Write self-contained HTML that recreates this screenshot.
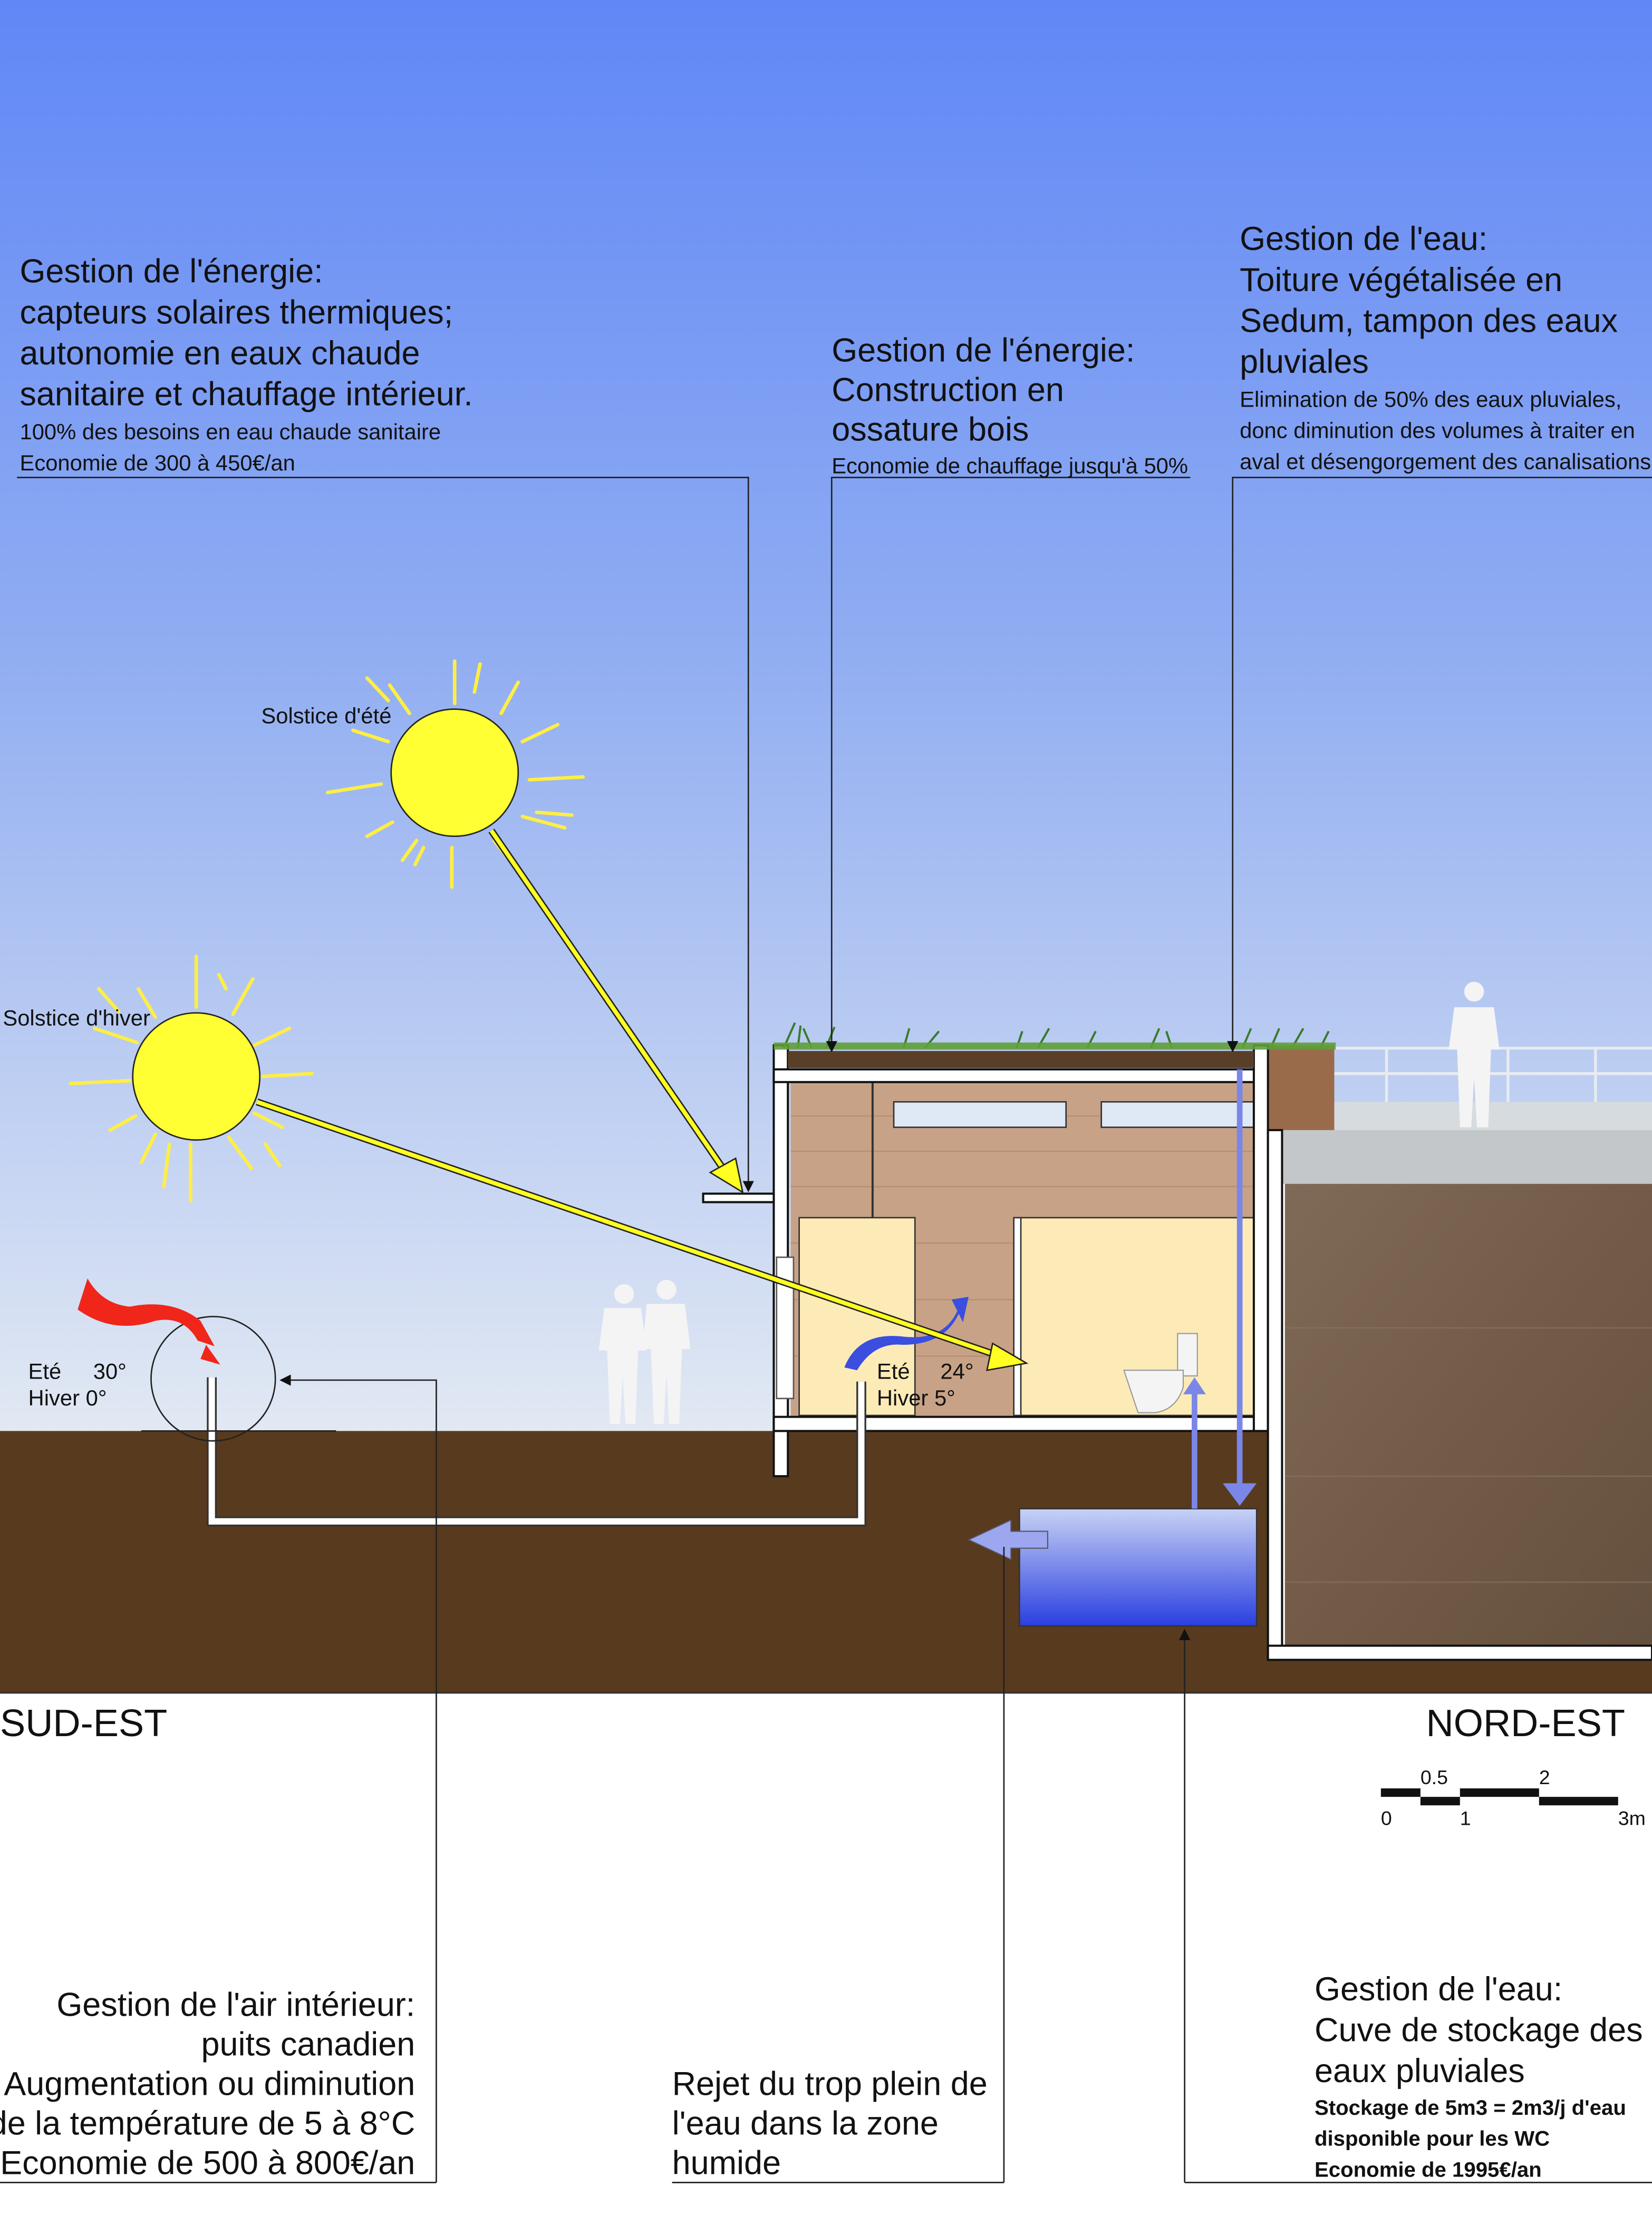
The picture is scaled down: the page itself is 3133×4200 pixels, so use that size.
<!DOCTYPE html>
<html><head><meta charset="utf-8">
<style>
html,body{margin:0;padding:0;background:#fff;}
svg{display:block;}
text{font-family:"Liberation Sans",Arial,sans-serif;fill:#111;}
</style></head>
<body>
<svg width="3133" height="4200" viewBox="0 0 1170 1568" preserveAspectRatio="none" xmlns="http://www.w3.org/2000/svg">
<defs>
<linearGradient id="sky" x1="0" y1="0" x2="0" y2="1">
<stop offset="0" stop-color="#6087f6"/>
<stop offset="0.45" stop-color="#90adf2"/>
<stop offset="1" stop-color="#e2e9f3"/>
</linearGradient>
<linearGradient id="tank" x1="0" y1="0" x2="0" y2="1">
<stop offset="0" stop-color="#c8d2f5"/>
<stop offset="1" stop-color="#2a3fe0"/>
</linearGradient>
<linearGradient id="soil" x1="0" y1="0" x2="1" y2="1">
<stop offset="0" stop-color="#7f6a58"/>
<stop offset="0.5" stop-color="#735b48"/>
<stop offset="1" stop-color="#64503e"/>
</linearGradient>
<marker id="ah" markerWidth="8" markerHeight="8" refX="7" refY="4" orient="auto" markerUnits="userSpaceOnUse"><path d="M0,0 L8,4 L0,8 Z" fill="#111"/></marker>
</defs>
<rect x="0" y="0" width="1170" height="1015" fill="url(#sky)"/>
<rect x="0" y="1013" width="1170" height="186" fill="#583a1e"/>
<line x1="0" y1="1198" x2="1170" y2="1198" stroke="#333" stroke-width="1"/>
<rect x="0" y="1199" width="1170" height="369" fill="#fff"/>
<rect x="898" y="800" width="272" height="375" fill="#fff"/>
<rect x="910" y="838" width="260" height="327" fill="url(#soil)"/>
<g stroke="#8a7462" stroke-width="1" opacity="0.6">
<line x1="910" y1="940" x2="1170" y2="940"/><line x1="910" y1="1045" x2="1170" y2="1045"/><line x1="910" y1="1120" x2="1170" y2="1120"/>
</g>
<rect x="908" y="800" width="262" height="38" fill="#c3c7c9"/>
<rect x="945" y="780" width="225" height="20" fill="#d6dbe0"/>
<g stroke="#e8ecf0" stroke-width="2" fill="none">
<line x1="945" y1="742" x2="1170" y2="742"/><line x1="945" y1="760" x2="1170" y2="760"/>
<line x1="982" y1="742" x2="982" y2="780"/><line x1="1068" y1="742" x2="1068" y2="780"/><line x1="1130" y1="742" x2="1130" y2="780"/>
</g>
<g fill="#f4f4f4">
<circle cx="1044" cy="702" r="7"/><path d="M1030,713 h28 l4,30 h-6 l-2,55 h-8 l-2,-35 l-2,35 h-8 l-2,-55 h-6 z"/>
</g>
<rect x="898" y="740" width="47" height="60" fill="#9a6b4a"/>
<g fill="#f4f4f4">
<circle cx="442" cy="916" r="7"/><path d="M428,926 h26 l4,30 h-6 l-2,52 h-7 l-2,-34 l-2,34 h-7 l-2,-52 h-6 z"/>
<circle cx="472" cy="913" r="7"/><path d="M458,923 h27 l4,32 h-6 l-2,53 h-7 l-2,-35 l-2,35 h-7 l-2,-53 h-6 z"/>
</g>
<rect x="560" y="765" width="328" height="238" fill="#c8a287"/>
<g stroke="#b08a70" stroke-width="1" opacity="0.7">
<line x1="560" y1="790" x2="888" y2="790"/><line x1="560" y1="815" x2="888" y2="815"/><line x1="560" y1="840" x2="888" y2="840"/><line x1="560" y1="880" x2="888" y2="880"/><line x1="560" y1="920" x2="888" y2="920"/><line x1="560" y1="960" x2="888" y2="960"/>
</g>
<line x1="618" y1="765" x2="618" y2="862" stroke="#333" stroke-width="1.5"/>
<rect x="633" y="780" width="122" height="18" fill="#dfe8f5" stroke="#333"/>
<rect x="780" y="780" width="108" height="18" fill="#dfe8f5" stroke="#333"/>
<rect x="566" y="862" width="82" height="140" fill="#fcebb6" stroke="#333"/>
<rect x="722" y="862" width="166" height="140" fill="#fcebb6" stroke="#333"/>
<rect x="718" y="862" width="5" height="140" fill="#fff" stroke="#333"/>
<g fill="#fff" stroke="#111" stroke-width="1.5">
<rect x="548" y="740" width="10" height="305"/>
<rect x="548" y="757" width="350" height="9"/>
<rect x="548" y="1003" width="350" height="10"/>
<rect x="888" y="740" width="10" height="273"/>
<rect x="898" y="800" width="10" height="375"/>
<rect x="898" y="1165" width="272" height="10"/>
<rect x="498" y="845" width="50" height="6"/>
</g>
<rect x="550" y="890" width="12" height="100" fill="#fff" stroke="#555"/>
<rect x="558" y="744" width="330" height="12" fill="#5a3f28"/>
<g stroke="#3a7a2a" stroke-width="1.5">
<path d="M555,742 l8,-18 M565,742 l2,-16 M575,742 l-6,-14 M585,742 l6,-15 M640,742 l4,-14 M655,742 l10,-12 M720,742 l4,-12 M735,742 l8,-14 M770,742 l6,-12 M815,742 l6,-14 M830,742 l-4,-12 M880,742 l6,-14 M900,742 l6,-14 M915,742 l8,-14 M935,742 l6,-12"/>
</g>
<rect x="548" y="738" width="398" height="5" fill="#5f9e3a" opacity="0.9"/>
<g fill="#f4f4f4" stroke="#999" stroke-width="0.8">
<rect x="834" y="944" width="14" height="30"/><path d="M796,970 h42 v12 q-5,16 -20,18 h-12 z"/>
</g>
<rect x="722" y="1068" width="168" height="83" fill="url(#tank)" stroke="#333"/>
<line x1="878" y1="757" x2="878" y2="1050" stroke="#7a86e8" stroke-width="4"/>
<path d="M866,1050 h24 l-12,16 z" fill="#7a86e8"/>
<line x1="846" y1="1068" x2="846" y2="985" stroke="#7a86e8" stroke-width="4"/>
<path d="M838,987 h16 l-8,-12 z" fill="#7a86e8"/>
<path d="M742,1084 h-26 v-8 l-30,14 l30,14 v-8 h26 z" fill="#9ca7f0" stroke="#556" stroke-width="0.8"/>
<path d="M150,975 V1077 H610 V978" fill="none" stroke="#333" stroke-width="7"/>
<path d="M150,975 V1077 H610 V978" fill="none" stroke="#fff" stroke-width="4.5"/>
<circle cx="151" cy="976" r="44" fill="none" stroke="#222" stroke-width="1"/>
<line x1="100" y1="1013" x2="238" y2="1013" stroke="#222"/>
<path d="M62,905 q10,18 30,20 q30,-6 50,10 l10,18 l-12,-4 q-10,-18 -30,-14 q-30,10 -55,-8 z" fill="#f0261a"/>
<path d="M146,952 l10,14 l-14,-4 z" fill="#f0261a"/>
<path d="M598,968 q10,-25 40,-22 q30,4 40,-18 l-4,-8 l12,-2 l-4,18 l-3,-6 q-10,22 -40,22 q-20,-2 -32,18 z" fill="#3a4ee0"/>
<g stroke="#ffee44" stroke-width="2.5" stroke-linecap="round">
<path d="M322,498 v-30 M290,505 l-14,-20 M355,505 l12,-22 M370,525 l25,-12 M375,552 l38,-2 M370,578 l30,8 M350,595 l14,18 M320,600 v28 M295,595 l-10,14 M278,582 l-18,10 M270,555 l-38,6 M275,525 l-25,-8 M260,480 l15,16 M340,470 l-4,20 M380,575 l25,2 M300,600 l-6,12"/>
<path d="M139,713 v-36 M110,720 l-12,-20 M165,718 l14,-25 M180,740 l25,-12 M186,762 l35,-2 M180,788 l20,10 M162,805 l16,22 M135,810 v40 M110,803 l-10,20 M96,790 l-18,10 M92,765 l-42,2 M97,738 l-30,-10 M70,700 l14,16 M155,690 l5,10 M188,810 l10,15 M120,810 l-4,30"/>
</g>
<circle cx="322" cy="547" r="45" fill="#ffff33" stroke="#222" stroke-width="1"/>
<circle cx="139" cy="762" r="45" fill="#ffff33" stroke="#222" stroke-width="1"/>
<g stroke="#222" stroke-width="5"><line x1="348" y1="588" x2="514" y2="830"/><line x1="182" y1="780" x2="708" y2="960"/></g>
<g stroke="#ffff22" stroke-width="3"><line x1="348" y1="588" x2="514" y2="830"/><line x1="182" y1="780" x2="708" y2="960"/></g>
<path d="M503,830 l18,-10 l5,24 z" fill="#ffff22" stroke="#222"/>
<path d="M703,951 l24,14 l-28,5 z" fill="#ffff22" stroke="#222"/>
<g stroke="#222" stroke-width="1" fill="none">
<polyline points="12,338 530,338 530,843" marker-end="url(#ah)"/>
<polyline points="843,338 589,338 589,744" marker-end="url(#ah)"/>
<polyline points="1170,338 873,338 873,744" marker-end="url(#ah)"/>
<polyline points="309,1545 309,977 199,977" marker-end="url(#ah)"/>
<polyline points="711,1545 711,1095"/>
<polyline points="839,1545 839,1154" marker-end="url(#ah)"/>
<line x1="0" y1="1545" x2="309" y2="1545"/>
<line x1="476" y1="1545" x2="711" y2="1545"/>
<line x1="839" y1="1545" x2="1170" y2="1545"/>
</g>
<g font-size="23.5">
<text x="14" y="200">Gestion de l'énergie:</text>
<text x="14" y="229">capteurs solaires thermiques;</text>
<text x="14" y="258">autonomie en eaux chaude</text>
<text x="14" y="287">sanitaire et chauffage intérieur.</text>
<text x="589" y="256">Gestion de l'énergie:</text>
<text x="589" y="284">Construction en</text>
<text x="589" y="312">ossature bois</text>
<text x="878" y="177">Gestion de l'eau:</text>
<text x="878" y="206">Toiture végétalisée en</text>
<text x="878" y="235">Sedum, tampon des eaux</text>
<text x="878" y="264">pluviales</text>
</g>
<g font-size="15.6">
<text x="14" y="311">100% des besoins en eau chaude sanitaire</text>
<text x="14" y="333">Economie de 300 à 450€/an</text>
<text x="589" y="335">Economie de chauffage jusqu'à 50%</text>
<text x="878" y="288">Elimination de 50% des eaux pluviales,</text>
<text x="878" y="310">donc diminution des volumes à traiter en</text>
<text x="878" y="332">aval et désengorgement des canalisations</text>
<text x="185" y="512">Solstice d'été</text>
<text x="2" y="726">Solstice d'hiver</text>
<text x="20" y="976">Eté</text><text x="66" y="976">30°</text>
<text x="20" y="995">Hiver 0°</text>
<text x="621" y="976">Eté</text><text x="666" y="976">24°</text>
<text x="621" y="995">Hiver 5°</text>
</g>
<g font-size="27">
<text x="0" y="1229">SUD-EST</text>
<text x="1010" y="1229">NORD-EST</text>
</g>
<g fill="#111">
<rect x="978" y="1266" width="28" height="6"/><rect x="1006" y="1272" width="28" height="6"/><rect x="1034" y="1266" width="56" height="6"/><rect x="1090" y="1272" width="56" height="6"/>
</g>
<g font-size="14"><text x="1006" y="1263">0.5</text><text x="1090" y="1263">2</text><text x="978" y="1292">0</text><text x="1034" y="1292">1</text><text x="1146" y="1292">3m</text></g>
<g font-size="23.5">
<text x="294" y="1427" text-anchor="end">Gestion de l'air intérieur:</text>
<text x="294" y="1455" text-anchor="end">puits canadien</text>
<text x="294" y="1483" text-anchor="end">Augmentation ou diminution</text>
<text x="294" y="1511" text-anchor="end">de la température de 5 à 8°C</text>
<text x="294" y="1539" text-anchor="end">Economie de 500 à 800€/an</text>
<text x="476" y="1483">Rejet du trop plein de</text>
<text x="476" y="1511">l'eau dans la zone</text>
<text x="476" y="1539">humide</text>
<text x="931" y="1416">Gestion de l'eau:</text>
<text x="931" y="1445">Cuve de stockage des</text>
<text x="931" y="1474">eaux pluviales</text>
</g>
<g font-size="15" font-weight="bold">
<text x="931" y="1497">Stockage de 5m3 = 2m3/j d'eau</text>
<text x="931" y="1519">disponible pour les WC</text>
<text x="931" y="1541">Economie de 1995€/an</text>
</g>
</svg>
</body></html>
